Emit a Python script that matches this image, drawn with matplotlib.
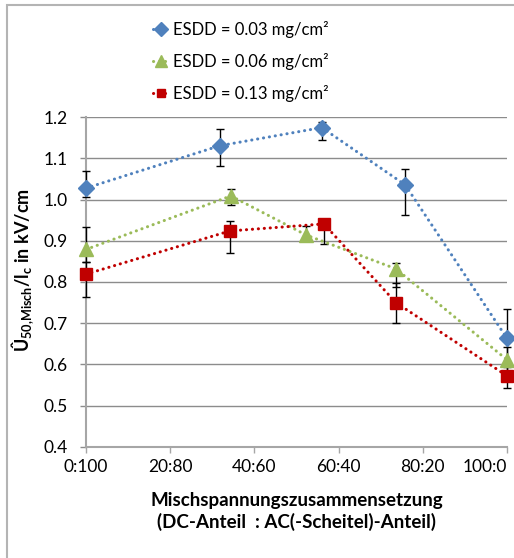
import numpy as np
import matplotlib
matplotlib.use("Agg")
import matplotlib.pyplot as plt
from matplotlib.patches import Rectangle

plt.rcParams['font.family'] = ['Lato', 'DejaVu Sans']
plt.rcParams['mathtext.fontset'] = 'custom'
plt.rcParams['mathtext.rm'] = 'Lato'
plt.rcParams['mathtext.bf'] = 'Lato:bold'

# mixing ratio DC : AC(peak), as DC share in %
tick_pos = [0, 20, 40, 60, 80, 100]
tick_labels = ['0:100', '20:80', '40:60', '60:40', '80:20', '100:0']

# ESDD = 0.03 mg/cm²
x_003 = [0, 31.8, 56.0, 75.8, 100]
u_003 = [1.028, 1.131, 1.175, 1.036, 0.663]
lo_003 = [0.022, 0.049, 0.030, 0.073, 0.070]
hi_003 = [0.042, 0.040, 0.014, 0.038, 0.071]

# ESDD = 0.06 mg/cm²
x_006 = [0, 34.4, 52.3, 73.6, 100]
u_006 = [0.879, 1.009, 0.914, 0.832, 0.611]
lo_006 = [0.030, 0.023, 0.014, 0.045, 0.030]
hi_006 = [0.055, 0.016, 0.022, 0.015, 0.030]

# ESDD = 0.13 mg/cm²
x_013 = [0, 34.2, 56.5, 73.6, 100]
u_013 = [0.819, 0.924, 0.941, 0.750, 0.572]
lo_013 = [0.055, 0.054, 0.049, 0.050, 0.030]
hi_013 = [0.030, 0.024, 0.010, 0.048, 0.030]

series = [
    (x_003, u_003, lo_003, hi_003, '#4F81BD', 'D', 8.5, 'ESDD = 0.03 mg/cm²'),
    (x_006, u_006, lo_006, hi_006, '#9BBB59', '^', 10, 'ESDD = 0.06 mg/cm²'),
    (x_013, u_013, lo_013, hi_013, '#C00000', 's', 8, 'ESDD = 0.13 mg/cm²'),
]

fig = plt.figure(figsize=(5.14, 5.58), dpi=100)
ax = fig.add_axes([0.1673, 0.1995, 0.8191, 0.5903])

for x, u, lo, hi, col, mk, ms, lab in series:
    ax.errorbar(x, u, yerr=[lo, hi], fmt='none', ecolor='black',
                elinewidth=1.0, capsize=3, capthick=1.0, clip_on=False, zorder=3)
    ax.plot(x, u, linestyle=(0, (0.05, 1.9)), dash_capstyle='round', linewidth=2.2,
            color=col, marker=mk, markersize=ms, markeredgecolor=col,
            label=lab, clip_on=False, zorder=4)

ax.set_xlim(0, 100)
ax.set_ylim(0.4, 1.2)
ax.set_yticks(np.arange(0.4, 1.21, 0.1))
ax.yaxis.set_major_formatter(matplotlib.ticker.FormatStrFormatter('%.1f'))
ax.set_xticks(tick_pos)
ax.set_xticklabels(tick_labels)
# keep the last category label inside the chart area
ax.xaxis.get_major_ticks()[-1].label1.set_horizontalalignment('right')

ax.grid(axis='y', color='#8c8c8c', linewidth=1.0)
ax.set_axisbelow(True)
for side in ('top', 'right'):
    ax.spines[side].set_visible(False)
for side in ('left', 'bottom'):
    ax.spines[side].set_color('#a6a6a6')
    ax.spines[side].set_linewidth(1.5)
ax.tick_params(axis='y', direction='out', length=4, width=1.0, color='#8c8c8c',
               labelsize=12.5, pad=9)
ax.tick_params(axis='x', direction='out', length=4, width=1.0, color='#a6a6a6',
               labelsize=12.5, pad=5)

ax.set_xlabel('Mischspannungszusammensetzung\n(DC-Anteil  : AC(-Scheitel)-Anteil)',
              fontsize=13.5, fontweight='bold', labelpad=12, linespacing=1.3)
ax.set_ylabel(r'Û$_{\mathbf{50{,}Misch}}$/l$_{\mathbf{c}}$ in kV/cm',
              fontsize=13, fontweight='bold')
ax.yaxis.set_label_coords(-0.118, 0.535)

fig.legend(loc='upper left', bbox_to_anchor=(0.268, 0.99), frameon=False,
           fontsize=12, handlelength=1.0, handletextpad=0.2, labelspacing=0.9,
           markerscale=0.8)

# chart area frame
fig.add_artist(Rectangle((7 / 514, -0.1), 1.2, 1.1 - 5 / 558, transform=fig.transFigure,
                         fill=False, edgecolor='#b4b4b4', linewidth=1.5))

fig.savefig('out.png', dpi=100)
